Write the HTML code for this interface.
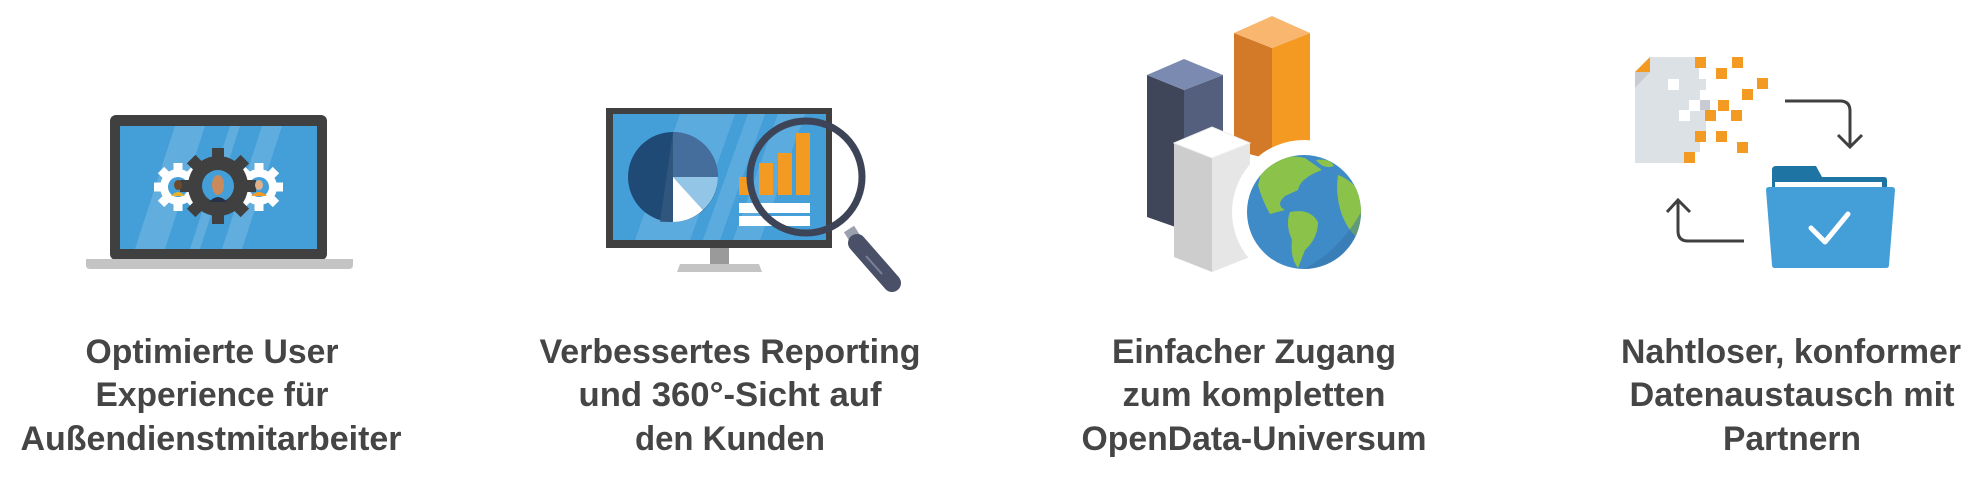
<!DOCTYPE html>
<html><head><meta charset="utf-8"><style>
html,body{margin:0;padding:0;background:#fff;}
svg{display:block;}
text{font-family:"Liberation Sans",sans-serif;font-weight:bold;font-size:34px;fill:#454545;}
</style></head><body>
<svg width="1980" height="480" viewBox="0 0 1980 480" xmlns="http://www.w3.org/2000/svg">
<defs>
<clipPath id="scr1"><rect x="120" y="126" width="197" height="123"/></clipPath>
<clipPath id="scr2"><rect x="613" y="114" width="213" height="126"/></clipPath>
<clipPath id="globe"><circle cx="1304" cy="212" r="57"/></clipPath>
</defs>

<!-- ========== Column 1: laptop ========== -->
<rect x="110" y="115" width="217" height="145" rx="6" fill="#404040"/>
<rect x="120" y="126" width="197" height="123" fill="#449fd9"/>
<g clip-path="url(#scr1)" fill="#ffffff" opacity="0.15">
<polygon points="175,126 205,126 165,249 135,249"/>
<polygon points="230,126 240,126 200,249 190,249"/>
<polygon points="262,126 282,126 242,249 222,249"/>
</g>
<path d="M86,259 H353 V265 Q353,269 349,269 H90 Q86,269 86,265 Z" fill="#c4c4c4"/>
<!-- gears -->
<g fill="#ffffff">
<g transform="translate(178,187)">
<circle r="18"/>
<rect x="-4.5" y="-24" width="9" height="48"/><rect x="-4.5" y="-24" width="9" height="48" transform="rotate(45)"/>
<rect x="-4.5" y="-24" width="9" height="48" transform="rotate(90)"/><rect x="-4.5" y="-24" width="9" height="48" transform="rotate(135)"/>
<circle r="10" fill="#449fd9"/>
</g>
<g transform="translate(259,187)">
<circle r="18"/>
<rect x="-4.5" y="-24" width="9" height="48"/><rect x="-4.5" y="-24" width="9" height="48" transform="rotate(45)"/>
<rect x="-4.5" y="-24" width="9" height="48" transform="rotate(90)"/><rect x="-4.5" y="-24" width="9" height="48" transform="rotate(135)"/>
<circle r="10" fill="#449fd9"/>
</g>
</g>
<g transform="translate(218,186)" fill="#404040">
<circle r="30"/>
<rect x="-6" y="-38" width="12" height="76"/><rect x="-6" y="-38" width="12" height="76" transform="rotate(45)"/>
<rect x="-6" y="-38" width="12" height="76" transform="rotate(90)"/><rect x="-6" y="-38" width="12" height="76" transform="rotate(135)"/>
<circle r="16" fill="#449fd9"/>
<ellipse cx="0" cy="-1" rx="6" ry="10" fill="#c98a5c"/>
<path d="M-9,16 Q0,6 9,16 Z" fill="#26324a"/>
</g>
<ellipse cx="178" cy="185" rx="4" ry="5" fill="#6b4a2e"/>
<path d="M171,196 Q178,188 185,196 Z" fill="#e8b12a"/>
<ellipse cx="259" cy="185" rx="4" ry="5" fill="#e0b08a"/>
<path d="M251,196 Q259,188 267,196 Z" fill="#f39a22"/>

<!-- ========== Column 2: monitor ========== -->
<rect x="606" y="108" width="226" height="140" fill="#404040"/>
<rect x="613" y="114" width="213" height="126" fill="#449fd9"/>
<g clip-path="url(#scr2)" fill="#ffffff" opacity="0.13">
<polygon points="680,114 735,114 690,240 635,240"/>
<polygon points="748,114 765,114 720,240 703,240"/>
<polygon points="778,114 805,114 760,240 733,240"/>
</g>
<rect x="710" y="248" width="19" height="16" fill="#9a9a9a"/>
<path d="M680,264 H759 L762,272 H677 Z" fill="#c4c4c4"/>
<!-- pie -->
<circle cx="673" cy="177" r="45" fill="#1f4a75"/>
<path d="M673,177 L673,132 A45,45 0 0 1 718,177 Z" fill="#466e9c"/>
<path d="M673,177 L718,177 A45,45 0 0 1 703,210 Z" fill="#93c6e6"/>
<path d="M673,177 L703,210 A45,45 0 0 1 673,222 Z" fill="#ffffff"/>
<path d="M660,222 L673,132 L673,222 Z" fill="#35597f" opacity="0.8"/>
<!-- bars -->
<g fill="#f39a22">
<rect x="739" y="177" width="11" height="18"/>
<rect x="759" y="163" width="14" height="32"/>
<rect x="778" y="153" width="14" height="42"/>
<rect x="796" y="133" width="14" height="62"/>
</g>
<rect x="739" y="203" width="71" height="10" fill="#fff"/>
<rect x="739" y="216" width="71" height="10" fill="#fff"/>
<!-- magnifier -->
<circle cx="806" cy="177" r="56" fill="none" stroke="#3d4458" stroke-width="7"/>
<line x1="849" y1="229" x2="856" y2="240" stroke="#9aa0ad" stroke-width="12"/>
<line x1="857" y1="243" x2="892" y2="283" stroke="#4a5068" stroke-width="18" stroke-linecap="round"/>
<line x1="866" y1="256" x2="882" y2="274" stroke="#7b8196" stroke-width="2"/>

<!-- ========== Column 3: columns + globe ========== -->
<polygon points="1147,75 1184,90 1184,230 1147,217" fill="#404659"/>
<polygon points="1184,90 1223,75 1223,217 1184,230" fill="#535f7c"/>
<polygon points="1147,75 1184,59 1223,75 1184,90" fill="#7a8ab0"/>
<polygon points="1234,33 1272,48 1272,160 1234,150" fill="#d37a28"/>
<polygon points="1272,48 1310,33 1310,150 1272,160" fill="#f49a22"/>
<polygon points="1234,33 1272,16 1310,33 1272,48" fill="#f8b66f"/>
<polygon points="1174,143 1212,158 1212,272 1174,257" fill="#cdcdcd"/>
<polygon points="1212,158 1250,143 1250,257 1212,272" fill="#e6e6e6"/>
<polygon points="1174,143 1212,127 1250,143 1212,158" fill="#ffffff" stroke="#eeeeee" stroke-width="1"/>
<circle cx="1304" cy="212" r="72" fill="#ffffff"/>
<circle cx="1304" cy="212" r="57" fill="#3f8bc8"/>
<g clip-path="url(#globe)" fill="#8bc34a">
<path d="M1262,170 Q1280,152 1305,158 L1322,170 Q1300,178 1298,190 L1285,196 Q1275,205 1285,210 L1270,214 Q1262,200 1258,185 Z"/>
<path d="M1290,212 Q1310,208 1318,222 Q1318,238 1305,250 L1298,268 Q1290,258 1292,240 Q1285,225 1290,212 Z"/>
<path d="M1338,175 Q1352,180 1362,195 L1362,240 Q1350,235 1342,215 Q1335,195 1338,175 Z"/>
<path d="M1316,160 Q1330,158 1334,166 Q1324,170 1316,160 Z"/>
</g>
<path d="M1361,212 A57,57 0 0 1 1304,269 Q1340,250 1361,212 Z" fill="#3571a5" opacity="0.5"/>

<!-- ========== Column 4: document + folder ========== -->
<path d="M1650,57 H1706 V163 H1635 V72 Z" fill="#dce1e6"/>
<path d="M1635,72 L1650,57 V72 Z" fill="#f39a22"/>
<path d="M1635,72 H1650 L1635,88 Z" fill="#c8ccd2"/>
<g fill="#ffffff">
<rect x="1668" y="79" width="11" height="11"/>
<rect x="1689" y="100" width="11" height="11"/>
<rect x="1679" y="110" width="11" height="11"/>
<rect x="1699" y="65" width="11" height="14"/>
<rect x="1700" y="90" width="10" height="10"/>
<rect x="1700" y="131" width="10" height="32"/>
<rect x="1690" y="152" width="10" height="11"/>
<rect x="1699" y="57" width="11" height="8"/>
</g>
<rect x="1700" y="100" width="10" height="10" fill="#c8ccd2"/>
<g fill="#f39a22">
<rect x="1695" y="57" width="11" height="11"/>
<rect x="1732" y="57" width="11" height="11"/>
<rect x="1716" y="68" width="11" height="11"/>
<rect x="1757" y="78" width="11" height="11"/>
<rect x="1742" y="89" width="11" height="11"/>
<rect x="1718" y="100" width="11" height="11"/>
<rect x="1705" y="110" width="11" height="11"/>
<rect x="1731" y="110" width="11" height="11"/>
<rect x="1695" y="131" width="11" height="11"/>
<rect x="1716" y="131" width="11" height="11"/>
<rect x="1737" y="142" width="11" height="11"/>
<rect x="1684" y="152" width="11" height="11"/>
</g>
<path d="M1785,101 H1840 Q1850,101 1850,111 V147" fill="none" stroke="#404040" stroke-width="3"/>
<path d="M1838,135 L1850,147 L1862,135" fill="none" stroke="#404040" stroke-width="3"/>
<path d="M1744,241 H1688 Q1678,241 1678,231 V200" fill="none" stroke="#404040" stroke-width="3"/>
<path d="M1667,212 L1678,200 L1690,212" fill="none" stroke="#404040" stroke-width="3"/>
<path d="M1772,170 Q1772,166 1776,166 H1816 L1822,177 H1884 Q1887,177 1887,180 V195 H1772 Z" fill="#1e75a3"/>
<rect x="1775" y="182" width="107" height="8" fill="#ffffff"/>
<path d="M1766,190 Q1766,187 1769,187 H1892 Q1895,187 1895,190 L1889,265 Q1889,268 1886,268 H1775 Q1772,268 1772,265 Z" fill="#449fd9"/>
<path d="M1811,228 L1825,242 L1848,214" fill="none" stroke="#ffffff" stroke-width="5" stroke-linecap="round" stroke-linejoin="round"/>

<!-- ========== Labels ========== -->
<text x="212" y="363" text-anchor="middle" textLength="253" lengthAdjust="spacingAndGlyphs">Optimierte User</text>
<text x="212" y="406" text-anchor="middle" textLength="233" lengthAdjust="spacingAndGlyphs">Experience für</text>
<text x="211" y="450" text-anchor="middle" textLength="381" lengthAdjust="spacingAndGlyphs">Außendienstmitarbeiter</text>

<text x="730" y="363" text-anchor="middle" textLength="381" lengthAdjust="spacingAndGlyphs">Verbessertes Reporting</text>
<text x="730" y="406" text-anchor="middle" textLength="303" lengthAdjust="spacingAndGlyphs">und 360°-Sicht auf</text>
<text x="730" y="450" text-anchor="middle" textLength="190" lengthAdjust="spacingAndGlyphs">den Kunden</text>

<text x="1254" y="363" text-anchor="middle" textLength="284" lengthAdjust="spacingAndGlyphs">Einfacher Zugang</text>
<text x="1254" y="406" text-anchor="middle" textLength="263" lengthAdjust="spacingAndGlyphs">zum kompletten</text>
<text x="1254" y="450" text-anchor="middle" textLength="345" lengthAdjust="spacingAndGlyphs">OpenData-Universum</text>

<text x="1791" y="363" text-anchor="middle" textLength="340" lengthAdjust="spacingAndGlyphs">Nahtloser, konformer</text>
<text x="1792" y="406" text-anchor="middle" textLength="325" lengthAdjust="spacingAndGlyphs">Datenaustausch mit</text>
<text x="1792" y="450" text-anchor="middle" textLength="138" lengthAdjust="spacingAndGlyphs">Partnern</text>
</svg>
</body></html>
